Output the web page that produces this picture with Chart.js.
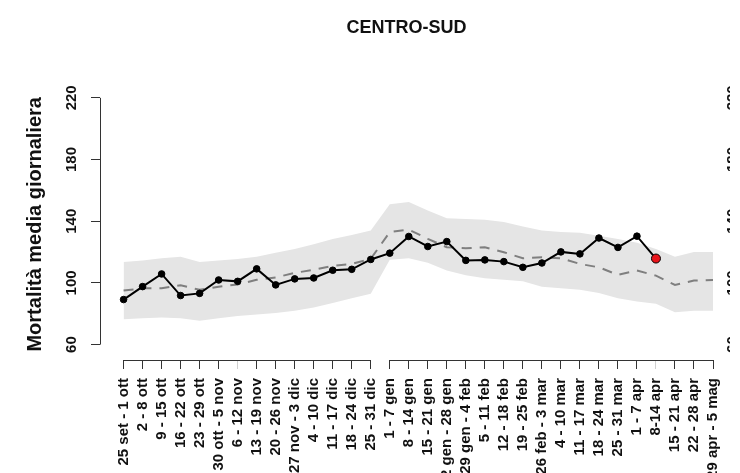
<!DOCTYPE html>
<html>
<head>
<meta charset="utf-8">
<script src="https://cdn.jsdelivr.net/npm/chart.js@4.4.1/dist/chart.umd.min.js"></script>
<style>
  html, body { margin: 0; padding: 0; background: #fff; overflow: hidden; }
  canvas { display: block; }
</style>
</head>
<body>
<canvas id="myChart" width="740" height="473"></canvas>
<script>
const weeks = [
    '25 set - 1 ott', '2 - 8 ott', '9 - 15 ott', '16 - 22 ott', '23 - 29 ott',
    '30 ott - 5 nov', '6 - 12 nov', '13 - 19 nov', '20 - 26 nov', '27 nov - 3 dic',
    '4 - 10 dic', '11 - 17 dic', '18 - 24 dic', '25 - 31 dic',
    '1 - 7 gen', '8 - 14 gen', '15 - 21 gen', '22 gen - 28 gen', '29 gen - 4 feb',
    '5 - 11 feb', '12 - 18 feb', '19 - 25 feb', '26 feb - 3 mar', '4 - 10 mar',
    '11 - 17 mar', '18 - 24 mar', '25 - 31 mar', '1 - 7 apr', '8-14 apr',
    '15 - 21 apr', '22 - 28 apr', '29 apr - 5 mag'
]

// mortalità osservata (ultimo punto = settimana in rosso)
const observed = [
    89.2, 97.6, 105.8, 91.8, 93.2, 101.9, 101.0, 109.1, 98.7, 102.6,
    103.2, 108.2, 108.8, 115.2, 119.3, 130.1, 123.6, 126.8, 114.6, 114.9,
    113.8, 110.1, 112.9, 120.1, 118.8, 129.1, 123.0, 130.3, 115.8
]

// mortalità attesa (linea tratteggiata)
const expected = [
    95, 96.5, 96.5, 98.5, 95.5, 97.5, 99, 102, 103.5, 106.5,
    108.5, 111, 112.3, 115.6, 133, 134.5, 128.6, 123.1, 122.5, 123.1,
    119.9, 116, 116.6, 116, 112.3, 110.1, 105.2, 108, 104.7, 98.7,
    101.5, 101.9
]

// banda grigia
const upperBand = [
    113.5, 114.5, 116, 117, 113.5, 114.5, 115.5, 117, 119.5, 122,
    125, 128.5, 131, 134, 151, 152.5, 147, 142, 141.5, 141,
    139.5, 136.5, 134, 133, 132.5, 130.5, 128.5, 126, 122, 117,
    120, 120
]
const lowerBand = [
    76.5, 77, 77.5, 77, 75.5, 77, 78.5, 79.5, 80.5, 82,
    84, 87, 90, 93, 115, 116, 113, 108, 105, 103,
    102, 101, 97.5, 96.5, 95.5, 93.5, 90, 88, 86.5, 81,
    82, 82
]

const yTicks = [60, 100, 140, 180, 220]
const axisSegments = [[0, 13], [14, 31]]  // l'asse x è spezzato tra dic e gen
const faintTicks = [6, 28]

const fontFamily = "'Liberation Sans', Arial, sans-serif"
const axisColor = '#333'

const toPoints = (arr) => arr.map((v, i) => ({x: i, y: v}))

// disegna gli assi in stile R
const axisLines = {
    id: 'axisLines',
    afterDraw(chart) {
        const {ctx, scales: {x, y}} = chart
        ctx.save()
        ctx.strokeStyle = axisColor
        ctx.lineWidth = 1
        const ax = Math.round(chart.chartArea.left) + 0.5
        ctx.beginPath()
        ctx.moveTo(ax, y.getPixelForValue(yTicks[0]))
        ctx.lineTo(ax, y.getPixelForValue(yTicks[yTicks.length - 1]))
        ctx.stroke()
        const by = Math.round(chart.chartArea.bottom) + 0.5
        axisSegments.forEach(seg => {
            ctx.beginPath()
            ctx.moveTo(x.getPixelForValue(seg[0]), by)
            ctx.lineTo(x.getPixelForValue(seg[1]), by)
            ctx.stroke()
        })
        ctx.restore()
    }
}

const ctx = document.getElementById('myChart').getContext('2d')
const myChart = new Chart(ctx, {
    type: 'line',
    data: {
        datasets: [{
            label: 'Osservata',
            data: toPoints(observed),
            borderColor: '#000',
            borderWidth: 2,
            tension: 0,
            pointRadius: (c) => c.dataIndex === observed.length - 1 ? 4.5 : 3.3,
            pointBackgroundColor: (c) => c.dataIndex === observed.length - 1 ? '#e8141b' : '#000',
            pointBorderColor: '#000',
            pointBorderWidth: 1,
            fill: false
        }, {
            label: 'Attesa',
            data: toPoints(expected),
            borderColor: '#7f7f7f',
            borderWidth: 2,
            borderDash: [10, 8],
            pointRadius: 0,
            tension: 0,
            fill: false
        }, {
            label: 'Limite superiore',
            data: toPoints(upperBand),
            borderWidth: 0,
            borderColor: 'rgba(0,0,0,0)',
            backgroundColor: '#e5e5e5',
            pointRadius: 0,
            tension: 0,
            fill: '+1'
        }, {
            label: 'Limite inferiore',
            data: toPoints(lowerBand),
            borderWidth: 0,
            borderColor: 'rgba(0,0,0,0)',
            pointRadius: 0,
            tension: 0,
            fill: false
        }]
    },
    plugins: [axisLines],
    options: {
        responsive: false,
        animation: false,
        devicePixelRatio: 1,
        layout: { padding: 0 },
        plugins: {
            legend: { display: false },
            tooltip: { enabled: false },
            title: {
                display: true,
                text: 'CENTRO-SUD',
                fullSize: false,
                color: '#111',
                font: { family: fontFamily, size: 18, weight: 'bold' },
                padding: { top: 17, bottom: 50 }
            }
        },
        scales: {
            x: {
                type: 'linear',
                min: -1.24,
                max: 31,
                afterFit: (scale) => { scale.height = 113 },
                afterBuildTicks: (scale) => { scale.ticks = weeks.map((w, i) => ({value: i})) },
                border: { display: false },
                grid: {
                    drawOnChartArea: false,
                    drawTicks: true,
                    tickLength: 9,
                    color: (c) => faintTicks.includes(c.index) ? '#d0d0d0' : axisColor
                },
                ticks: {
                    autoSkip: false,
                    minRotation: 90,
                    maxRotation: 90,
                    padding: 9,
                    color: '#111',
                    font: { family: fontFamily, size: 15, weight: 'bold' },
                    callback: (v) => weeks[v]
                }
            },
            y: {
                min: 50,
                max: 226,
                position: 'left',
                afterFit: (scale) => { scale.width = 100 },
                afterBuildTicks: (scale) => { scale.ticks = yTicks.map(v => ({value: v})) },
                border: { display: false },
                grid: {
                    drawOnChartArea: false,
                    drawTicks: true,
                    tickLength: 9,
                    color: axisColor
                },
                ticks: {
                    minRotation: 90,
                    maxRotation: 90,
                    crossAlign: 'center',
                    padding: 7,
                    color: '#111',
                    font: { family: fontFamily, size: 15, weight: 'bold' }
                },
                title: {
                    display: true,
                    text: 'Mortalità media giornaliera',
                    color: '#111',
                    font: { family: fontFamily, size: 20, weight: 'bold' },
                    padding: { top: 23, bottom: 0 }
                }
            },
            y2: {
                min: 50,
                max: 226,
                position: 'right',
                afterFit: (scale) => { scale.width = 17 },
                afterBuildTicks: (scale) => { scale.ticks = yTicks.map(v => ({value: v})) },
                border: { display: false },
                grid: { display: false, drawTicks: false },
                ticks: {
                    minRotation: 90,
                    maxRotation: 90,
                    crossAlign: 'center',
                    padding: 7,
                    color: '#111',
                    font: { family: fontFamily, size: 15, weight: 'bold' }
                }
            }
        }
    }
})
</script>
</body>
</html>
